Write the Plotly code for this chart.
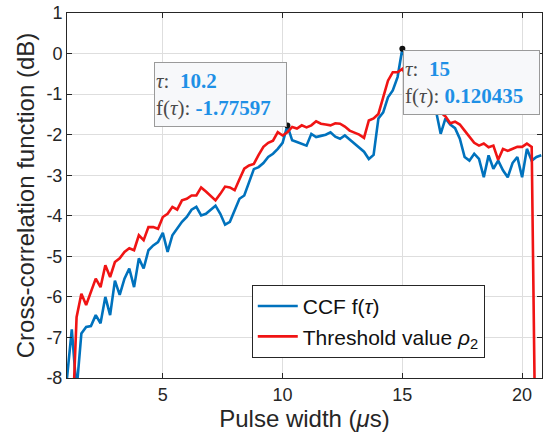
import plotly.graph_objects as go

# Pulse width grid (microseconds), sampled every 0.2 us
pulse_width = [round(1.0 + 0.2 * i, 1) for i in range(100)]

# Cross-correlation function f(tau), dB
ccf = [
    -8.0, -6.8, -8.3, -6.9, -6.74, -6.72, -6.45, -6.65, -6.0, -6.45,
    -5.6, -5.95, -5.55, -5.3, -5.76, -5.05, -5.3, -4.85, -4.73, -4.65,
    -4.42, -4.89, -4.48, -4.3, -4.15, -4.03, -3.85, -3.78, -3.99, -3.95,
    -3.85, -3.75, -3.95, -4.22, -4.15, -3.85, -3.58, -3.5, -3.15, -2.85,
    -2.8, -2.7, -2.55, -2.47, -2.35, -2.2, -1.77597, -2.14, -2.18, -2.22,
    -2.27, -1.98, -2.06, -2.03, -2.0, -1.94, -2.05, -2.1, -2.02, -2.12,
    -2.22, -2.3, -2.42, -2.6, -2.5, -1.6, -1.45, -1.08, -0.91, -0.58,
    0.120435, -0.3, -0.6, -0.85, -1.0, -1.15, -1.3, -1.4, -1.98, -1.6,
    -1.75, -1.84, -2.1, -2.55, -2.64, -2.47, -2.6, -3.05, -2.51, -2.84,
    -2.64, -2.88, -3.05, -2.7, -2.55, -3.05, -2.35, -2.64, -2.55, -2.51,
]

# Threshold value rho_2, dB
threshold = [
    -9.5, -9.5, -6.5, -5.92, -6.2, -5.9, -5.55, -5.76, -5.22, -5.51,
    -5.14, -5.05, -4.89, -4.8, -4.85, -4.48, -4.6, -4.28, -4.28, -4.32,
    -4.03, -3.95, -3.78, -3.85, -3.62, -3.58, -3.5, -3.5, -3.3, -3.4,
    -3.5, -3.62, -3.46, -3.28, -3.3, -3.37, -3.1, -2.84, -2.76, -2.72,
    -2.5, -2.3, -2.2, -2.15, -1.94, -2.02, -1.94, -1.81, -1.85, -1.77,
    -1.82, -1.77, -1.67, -1.73, -1.75, -1.77, -1.72, -1.73, -1.8, -1.9,
    -1.95, -2.0, -2.08, -1.65, -1.6, -1.49, -1.08, -0.67, -0.46, -0.46,
    -0.38, -0.6, -0.8, -1.0, -1.1, -1.25, -1.35, -1.42, -1.45, -1.55,
    -1.72, -1.68, -1.75, -1.9, -2.05, -2.2, -2.27, -2.22, -2.31, -2.27,
    -2.62, -2.35, -2.4, -2.35, -2.3, -2.3, -2.22, -2.3, -12.0, -12.0,
]

# Data-tip positions on the CCF curve and their displayed values
tip_tau = [10.2, 15.0]
tip_labels = ["-1.77597", "0.120435"]

y_ticks = [1, 0, -1, -2, -3, -4, -5, -6, -7, -8]
y_tick_text = ["1", "0", "-1", "-2", "-3", "-4", "-5", "-6", "-7", "-8"]
x_ticks = [5, 10, 15, 20]
x_tick_text = ["5", "10", "15", "20"]

BLUE = "#0072BD"
RED = "#F01414"
INK = "#262626"
TIP_BLUE = "#1E90E6"

fig = go.Figure()
fig.add_trace(go.Scatter(
    x=pulse_width, y=ccf, mode="lines",
    line=dict(color=BLUE, width=2.6),
    name="CCF f(<i>τ</i>)",
))
fig.add_trace(go.Scatter(
    x=pulse_width, y=threshold, mode="lines",
    line=dict(color=RED, width=2.6),
    name="Threshold value <i>ρ</i><sub>2</sub>",
))

tip_vals = [ccf[pulse_width.index(t)] for t in tip_tau]
fig.add_trace(go.Scatter(
    x=tip_tau, y=tip_vals, mode="markers",
    marker=dict(color="#111111", size=6),
    showlegend=False, hoverinfo="skip",
))

# Data-tip boxes (top-left corner in data units, size in px)
tip_boxes = [
    dict(x=4.62, y=-0.2, w=129, h=61),
    dict(x=15.02, y=0.09, w=133, h=61),
]
for t, lab, b in zip(tip_tau, tip_labels, tip_boxes):
    text = (
        f"<i>τ</i>:  <b><span style='color:{TIP_BLUE}'>{t:g}</span></b><br>"
        f"f(<i>τ</i>): <b><span style='color:{TIP_BLUE}'>{lab}</span></b>"
    )
    fig.add_annotation(
        x=b["x"], y=b["y"], xref="x", yref="y",
        xanchor="left", yanchor="top",
        text=text, showarrow=False, align="left",
        width=b["w"], height=b["h"],
        font=dict(family="Liberation Serif", size=21, color="#4a4a4a"),
        bgcolor="#f7f8fa", bordercolor="#9a9a9a", borderwidth=1, borderpad=1,
    )

axis_common = dict(
    showline=True, linecolor=INK, linewidth=1, mirror="allticks",
    ticks="inside", ticklen=5, tickcolor=INK,
    showgrid=True, gridcolor="#dedede", gridwidth=1,
    zeroline=False,
    tickfont=dict(family="Liberation Sans", size=18, color=INK),
)

fig.update_layout(
    width=543, height=445,
    margin=dict(l=67, r=1, t=13, b=67),
    paper_bgcolor="white", plot_bgcolor="white",
    showlegend=True,
    legend=dict(
        x=0.389, y=0.255, xanchor="left", yanchor="top",
        bgcolor="white", bordercolor=INK, borderwidth=1,
        font=dict(family="Liberation Sans", size=21, color="#111111"),
        tracegroupgap=0, itemwidth=40,
    ),
    xaxis=dict(
        range=[1, 20.83], tickvals=x_ticks, ticktext=x_tick_text,
        title=dict(text="Pulse width (<i>μ</i>s)", standoff=4,
                   font=dict(family="Liberation Sans", size=24, color=INK)),
        **axis_common,
    ),
    yaxis=dict(
        range=[-8, 1], tickvals=y_ticks, ticktext=y_tick_text,
        title=dict(text="Cross-correlation function (dB)", standoff=4,
                   font=dict(family="Liberation Sans", size=24, color=INK)),
        **axis_common,
    ),
)

fig.write_html("out.html")
